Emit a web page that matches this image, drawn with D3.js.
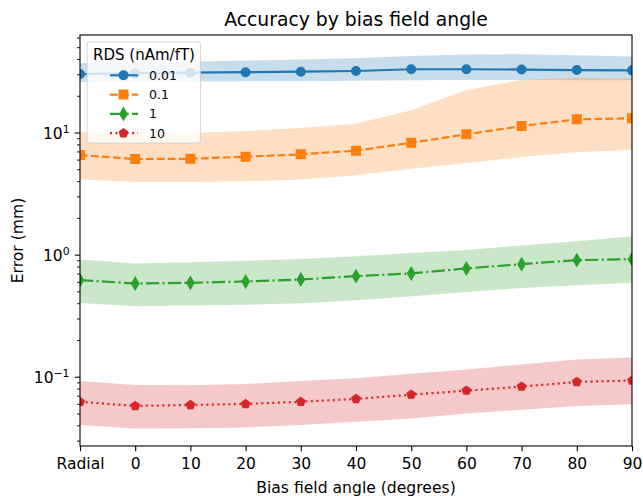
<!DOCTYPE html>
<html>
<head>
<meta charset="utf-8">
<script src="https://cdn.jsdelivr.net/npm/d3@7"></script>
<style>
  body { margin: 0; background: #fff; }
  text { font-family: "DejaVu Sans", sans-serif; fill: #000; }
</style>
</head>
<body>
<svg id="chart"></svg>
<script>
// x categories and legend labels
var categories = ["Radial", "0", "10", "20", "30", "40", "50", "60", "70", "80", "90"];
var rdsLabels = ["0.01", "0.1", "1", "10"];

// mean error (mm) per RDS value
var mean001 = [30.4, 30.9, 31.2, 31.5, 31.8, 32.2, 33.3, 33.3, 33.1, 32.8, 32.6];
var mean01  = [6.6, 6.12, 6.16, 6.4, 6.69, 7.17, 8.33, 9.76, 11.4, 12.95, 13.2];
var mean1   = [0.624, 0.586, 0.593, 0.609, 0.632, 0.673, 0.708, 0.778, 0.844, 0.910, 0.927];
var mean10  = [0.063, 0.0582, 0.0593, 0.0604, 0.063, 0.0664, 0.072, 0.0777, 0.0838, 0.0915, 0.094];

// band lower / upper bounds
var lo001 = [26.2, 26.3, 26.4, 26.5, 26.6, 26.8, 27.0, 27.2, 27.2, 27.1, 27.0];
var hi001 = [37.3, 37.6, 38.3, 39.2, 40.0, 41.0, 42.8, 44.0, 44.2, 43.4, 42.3];
var lo01  = [4.17, 3.97, 3.98, 4.03, 4.17, 4.5, 5.1, 5.67, 6.36, 6.99, 7.25];
var hi01  = [10.25, 9.6, 10.0, 10.4, 11.0, 11.9, 15.4, 22.5, 27.2, 28.3, 27.8];
var lo1   = [0.406, 0.382, 0.386, 0.393, 0.404, 0.428, 0.461, 0.498, 0.537, 0.568, 0.593];
var hi1   = [0.922, 0.855, 0.876, 0.90, 0.93, 0.98, 1.04, 1.10, 1.20, 1.30, 1.43];
var lo10  = [0.0407, 0.038, 0.0382, 0.0388, 0.0407, 0.0432, 0.0459, 0.0505, 0.0542, 0.0582, 0.0600];
var hi10  = [0.093, 0.0864, 0.086, 0.088, 0.093, 0.098, 0.107, 0.116, 0.127, 0.14, 0.145];

var majorTicks = [0.1, 1, 10];
var tickExps = ["\u22121", "0", "1"];

var W = 643, H = 496;
var margin = {top: 35, right: 11, bottom: 50, left: 80},
    width = W - margin.left - margin.right,
    height = H - margin.top - margin.bottom;

var series = [
  {mean: mean001, lo: lo001, hi: hi001, color: "#1f77b4", dash: null, marker: "circle"},
  {mean: mean01,  lo: lo01,  hi: hi01,  color: "#ff7f0e", dash: "7.7,3.3", marker: "square"},
  {mean: mean1,   lo: lo1,   hi: hi1,   color: "#2ca02c", dash: "13.3,3.3,2.1,3.3", marker: "thin_diamond"},
  {mean: mean10,  lo: lo10,  hi: hi10,  color: "#d62728", dash: "2.1,3.4", marker: "pentagon"}
];

var svg = d3.select("#chart").attr("width", W).attr("height", H);
var g = svg.append("g").attr("transform", `translate(${margin.left},${margin.top})`);

var x = d3.scalePoint().domain(categories).range([0, width]).padding(0);
var y = d3.scaleLog().domain([0.02735, 63.5]).range([height, 0]);

// marker shapes (size in px)
var ms = 8.6;
function markerPath(type) {
  var p = d3.path();
  if (type == "circle") {
    p.arc(0, 0, ms / 2, 0, 2 * Math.PI);
  } else if (type == "square") {
    p.rect(-ms / 2, -ms / 2, ms, ms);
  } else if (type == "thin_diamond") {
    var h = ms * Math.SQRT2 / 2, w = h * 0.6;
    p.moveTo(0, -h); p.lineTo(w, 0); p.lineTo(0, h); p.lineTo(-w, 0); p.closePath();
  } else {
    var r = ms / 2;
    for (var i = 0; i < 5; i++) {
      var a = -Math.PI / 2 + i * 2 * Math.PI / 5;
      if (i == 0) p.moveTo(r * Math.cos(a), r * Math.sin(a));
      else p.lineTo(r * Math.cos(a), r * Math.sin(a));
    }
    p.closePath();
  }
  return p.toString();
}

svg.append("clipPath").attr("id", "plotclip")
  .append("rect").attr("width", width).attr("height", height);

var plot = g.append("g").attr("clip-path", "url(#plotclip)");

// bands
var area = d3.area()
  .x((d, i) => x(categories[i]))
  .y0(d => y(d[0]))
  .y1(d => y(d[1]));

series.forEach(function(s) {
  plot.append("path")
    .datum(s.lo.map((v, i) => [v, s.hi[i]]))
    .attr("d", area)
    .attr("fill", s.color)
    .attr("fill-opacity", 0.25);
});

var line = d3.line()
  .x((d, i) => x(categories[i]))
  .y(d => y(d));

series.forEach(function(s) {
  plot.append("path")
    .datum(s.mean)
    .attr("d", line)
    .attr("fill", "none")
    .attr("stroke", s.color)
    .attr("stroke-width", 2.2)
    .attr("stroke-dasharray", s.dash);
  plot.selectAll(null)
    .data(s.mean)
    .join("path")
    .attr("transform", (d, i) => `translate(${x(categories[i])},${y(d)})`)
    .attr("d", markerPath(s.marker))
    .attr("fill", s.color)
    .attr("stroke", s.color)
    .attr("stroke-width", 1.4);
});

// X axis
var xAxis = g.append("g")
  .attr("transform", `translate(0,${height})`)
  .call(d3.axisBottom(x).tickSize(5.2).tickPadding(7));
xAxis.select(".domain").remove();
xAxis.selectAll("line").attr("stroke", "#000").attr("stroke-width", 1.1);
xAxis.selectAll("text")
  .style("font-size", "15.5px")
  .style("font-family", "DejaVu Sans");

// Y axis minor ticks
var minorTicks = [];
[0.01, 0.1, 1, 10].forEach(function(dec) {
  for (var k = 2; k <= 9; k++) {
    var v = dec * k;
    if (v >= y.domain()[0] && v <= y.domain()[1]) minorTicks.push(v);
  }
});
g.selectAll(".minor")
  .data(minorTicks)
  .join("line")
  .attr("x1", -3).attr("x2", 0)
  .attr("y1", d => y(d)).attr("y2", d => y(d))
  .attr("stroke", "#000").attr("stroke-width", 0.9);

// Y axis major ticks
g.selectAll(".major")
  .data(majorTicks)
  .join("line")
  .attr("x1", -5.2).attr("x2", 0)
  .attr("y1", d => y(d)).attr("y2", d => y(d))
  .attr("stroke", "#000").attr("stroke-width", 1.1);

var ylab = g.selectAll(".ylab")
  .data(majorTicks)
  .join("text")
  .attr("x", -10.5)
  .attr("y", d => y(d) + 6)
  .attr("text-anchor", "end")
  .style("font-size", "15.5px");
ylab.append("tspan").text("10");
ylab.append("tspan")
  .attr("dy", -6.5)
  .style("font-size", "10.8px")
  .text((d, i) => tickExps[i]);

// frame
g.append("rect")
  .attr("width", width).attr("height", height)
  .attr("fill", "none")
  .attr("stroke", "#000")
  .attr("stroke-width", 1.1);

// title and axis labels
svg.append("text")
  .attr("x", margin.left + width / 2).attr("y", 26)
  .attr("text-anchor", "middle")
  .style("font-size", "18.8px")
  .text("Accuracy by bias field angle");

svg.append("text")
  .attr("x", margin.left + width / 2).attr("y", 492.5)
  .attr("text-anchor", "middle")
  .style("font-size", "15.6px")
  .text("Bias field angle (degrees)");

svg.append("text")
  .attr("transform", `translate(23,${margin.top + height / 2}) rotate(-90)`)
  .attr("text-anchor", "middle")
  .style("font-size", "15.6px")
  .text("Error (mm)");

// legend
var leg = g.append("g").attr("transform", "translate(7,7)");
leg.append("rect")
  .attr("width", 113.5).attr("height", 101)
  .attr("rx", 3)
  .attr("fill", "#fff").attr("fill-opacity", 0.8)
  .attr("stroke", "#ccc").attr("stroke-opacity", 0.8).attr("stroke-width", 1.1);
leg.append("text")
  .attr("x", 57).attr("y", 17.5)
  .attr("text-anchor", "middle")
  .style("font-size", "15px")
  .text("RDS (nAm/fT)");

series.forEach(function(s, i) {
  var yy = 33.3 + i * 19.3;
  leg.append("line")
    .attr("x1", 23).attr("x2", 51)
    .attr("y1", yy).attr("y2", yy)
    .attr("stroke", s.color).attr("stroke-width", 2.2)
    .attr("stroke-dasharray", s.dash);
  leg.append("path")
    .attr("transform", `translate(36.5,${yy})`)
    .attr("d", markerPath(s.marker))
    .attr("fill", s.color).attr("stroke", s.color).attr("stroke-width", 1.4);
  leg.append("text")
    .attr("x", 62).attr("y", yy + 4.5)
    .style("font-size", "12.5px")
    .text(rdsLabels[i]);
});
</script>
</body>
</html>
